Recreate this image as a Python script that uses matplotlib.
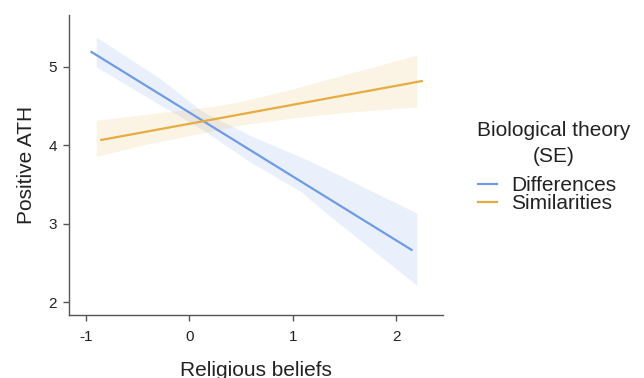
import matplotlib.pyplot as plt
import numpy as np

plt.rcParams['font.family'] = ['Liberation Sans', 'DejaVu Sans']
plt.rcParams['axes.unicode_minus'] = False

# fitted lines for each theory group
diff_x = [-0.945, 2.15]
diff_y = [5.19, 2.67]
sim_x = [-0.85, 2.25]
sim_y = [4.07, 4.82]

# standard error ribbons
diff_band_x = [-0.9, -0.3, 0.13, 0.6, 1.07, 1.36, 2.2]
diff_hi = [5.38, 4.87, 4.43, 4.12, 3.86, 3.68, 3.14]
diff_lo = [5.00, 4.53, 4.20, 3.78, 3.42, 3.10, 2.22]
sim_band_x = [-0.9, -0.4, 0.25, 0.5, 1.0, 1.5, 2.2]
sim_hi = [4.32, 4.40, 4.50, 4.56, 4.72, 4.90, 5.15]
sim_lo = [3.86, 4.02, 4.19, 4.26, 4.35, 4.42, 4.49]

blue = '#6f9be6'
orange = '#e6ac40'
txt = '#222222'

fig = plt.figure(figsize=(6.44, 3.78), dpi=100)
ax = fig.add_axes([0.1076, 0.1667, 0.5804, 0.7933])

ax.fill_between(diff_band_x, diff_lo, diff_hi, color=blue, alpha=0.14, linewidth=0)
ax.fill_between(sim_band_x, sim_lo, sim_hi, color=orange, alpha=0.14, linewidth=0)
ax.plot(diff_x, diff_y, color=blue, linewidth=1.6, label='Differences')
ax.plot(sim_x, sim_y, color=orange, linewidth=1.6, label='Similarities')

ax.set_xlim(-1.16, 2.455)
ax.set_ylim(1.84, 5.66)
ax.set_xticks([-1, 0, 1, 2])
ax.set_yticks([2, 3, 4, 5])

for side in ['top', 'right']:
    ax.spines[side].set_visible(False)
for side in ['left', 'bottom']:
    ax.spines[side].set_color('#555555')
    ax.spines[side].set_linewidth(1.0)
ax.tick_params(colors='#555555', labelcolor=txt, labelsize=11, length=4, width=1.0)
ax.tick_params(axis='x', pad=7)
ax.tick_params(axis='y', pad=5)

ax.set_xlabel('Religious beliefs', fontsize=15, color=txt, labelpad=12)
ax.set_ylabel('Positive ATH', fontsize=15, color=txt, labelpad=9)

# legend title drawn on its own so the gap to the entries can be set
fig.text(554 / 644, 1 - 136 / 378, 'Biological theory', fontsize=15, color=txt,
         ha='center', va='baseline')
fig.text(554 / 644, 1 - 161.7 / 378, '(SE)', fontsize=15, color=txt,
         ha='center', va='baseline')
leg = ax.legend(loc='upper left', bbox_to_anchor=(478 / 644, 1 - 176 / 378),
                bbox_transform=fig.transFigure, frameon=False, fontsize=15,
                handlelength=0.9, handletextpad=0.7, labelspacing=-0.05,
                borderpad=0, borderaxespad=0)
for t in leg.get_texts():
    t.set_color(txt)

fig.savefig('out.png', dpi=100)
